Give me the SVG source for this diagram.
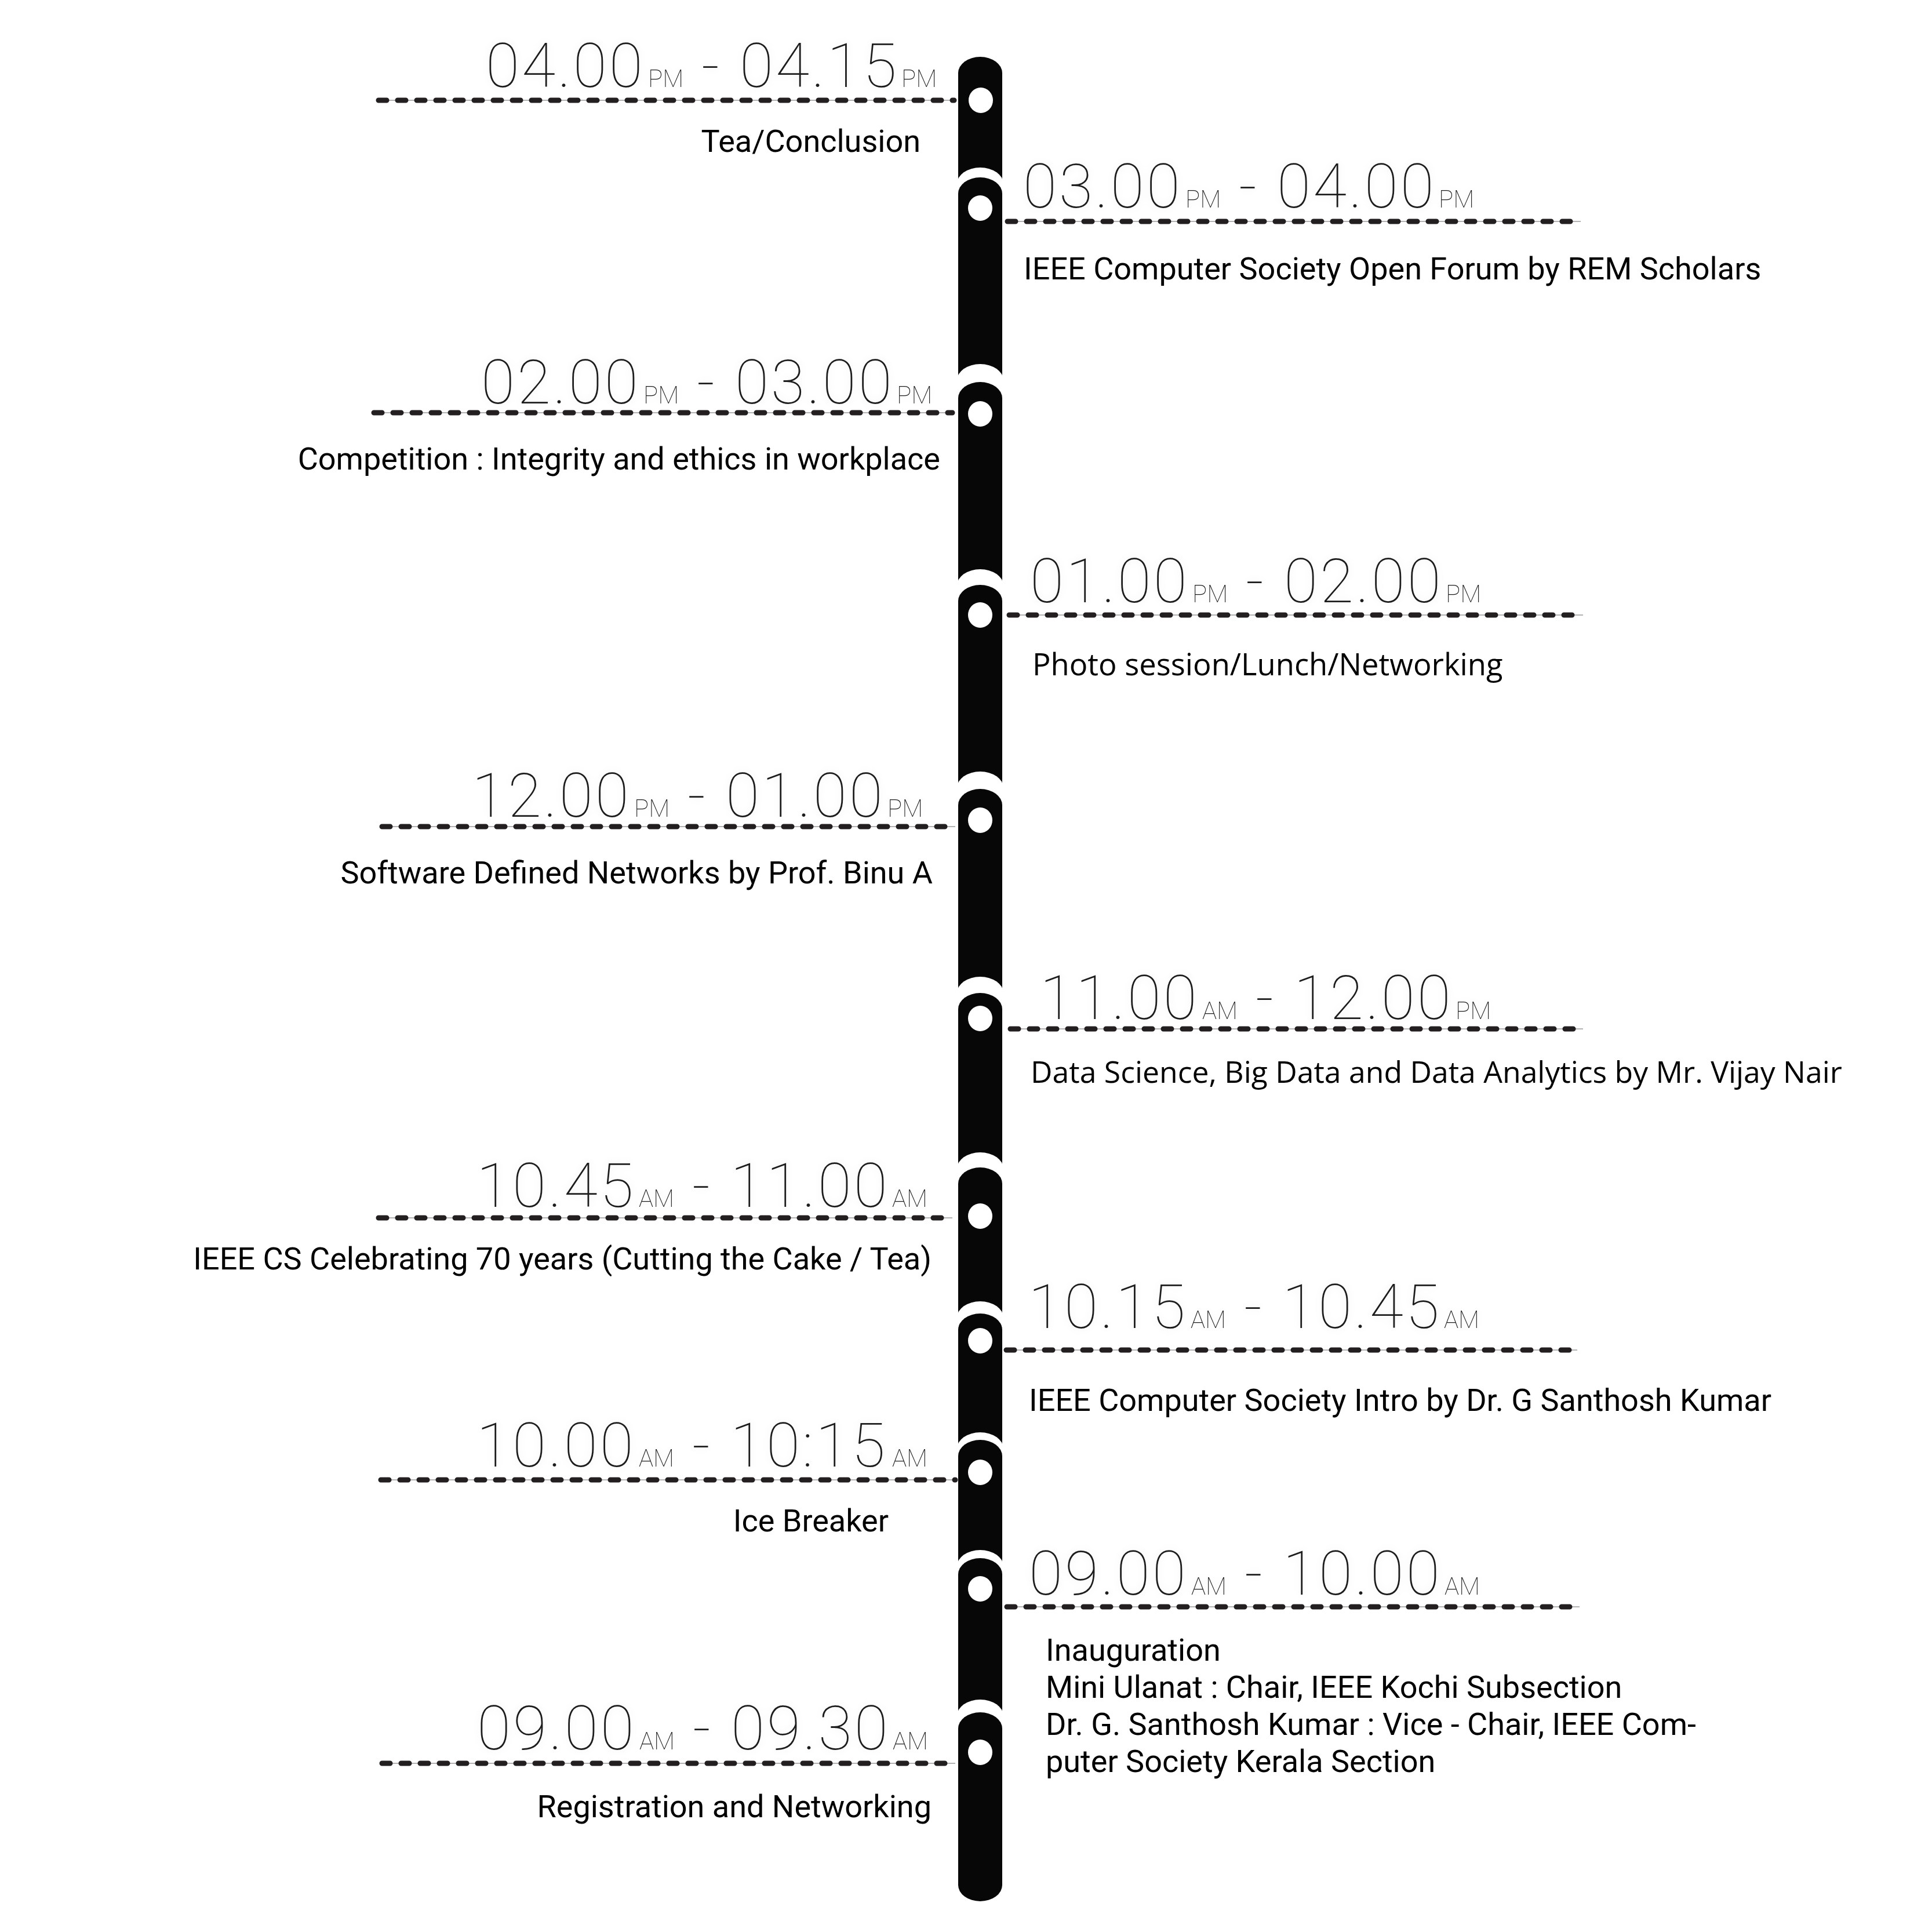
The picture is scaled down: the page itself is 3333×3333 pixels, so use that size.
<svg xmlns="http://www.w3.org/2000/svg" width="3333" height="3333" viewBox="0 0 3333 3333">
<defs>
<style>
.t{font-family:Roboto,"Liberation Sans",sans-serif;font-weight:100;font-size:106px;letter-spacing:4px;fill:#1a1a1a;filter:url(#glow)}
.s{font-size:42px;letter-spacing:0}
.lbl{font-family:Roboto,"Liberation Sans",sans-serif;font-size:54px;fill:#000}
.os{font-family:"Open Sans","Liberation Sans",sans-serif;fill:#000}
.end{text-anchor:end}
.dash{stroke:#231f20;stroke-width:9;stroke-linecap:round;stroke-dasharray:14 19;fill:none}
.thin{stroke:#9a9a9a;stroke-width:1.5;fill:none}
.bar{fill:#070707}
.gap{fill:#fff}
.dot{fill:#fff}
</style>
<filter id="glow" x="-10%" y="-30%" width="120%" height="160%">
<feGaussianBlur in="SourceAlpha" stdDeviation="7" result="b"/>
<feFlood flood-color="#000" flood-opacity="0.07"/>
<feComposite in2="b" operator="in" result="sh"/>
<feMerge><feMergeNode in="sh"/><feMergeNode in="SourceGraphic"/></feMerge>
</filter>
</defs>
<rect width="3333" height="3333" fill="#fff"/>

<g id="timeline-bar">
<path class="bar" d="M1653,3252 L1653,126 A38,28 0 0 1 1729,126 L1729,3252 A38,28 0 0 1 1653,3252 Z"/>
</g>

<g id="connectors">
<g class="thin">
<line x1="653" y1="173" x2="1646" y2="173"/>
<line x1="1734" y1="382" x2="2727" y2="382"/>
<line x1="645" y1="712" x2="1643" y2="712"/>
<line x1="1737" y1="1061" x2="2731" y2="1061"/>
<line x1="659" y1="1426" x2="1648" y2="1426"/>
<line x1="1739" y1="1775" x2="2731" y2="1775"/>
<line x1="653" y1="2101" x2="1643" y2="2101"/>
<line x1="1732" y1="2329" x2="2721" y2="2329"/>
<line x1="657" y1="2553" x2="1648" y2="2553"/>
<line x1="1733" y1="2772" x2="2725" y2="2772"/>
<line x1="659" y1="3042" x2="1648" y2="3042"/>
</g>
<g class="dash">
<line x1="653" y1="173" x2="1646" y2="173"/>
<line x1="1738" y1="382" x2="2727" y2="382"/>
<line x1="645" y1="712" x2="1643" y2="712"/>
<line x1="1741" y1="1061" x2="2731" y2="1061"/>
<line x1="659" y1="1426" x2="1648" y2="1426"/>
<line x1="1743" y1="1775" x2="2731" y2="1775"/>
<line x1="653" y1="2101" x2="1643" y2="2101"/>
<line x1="1736" y1="2329" x2="2721" y2="2329"/>
<line x1="657" y1="2553" x2="1648" y2="2553"/>
<line x1="1737" y1="2772" x2="2725" y2="2772"/>
<line x1="659" y1="3042" x2="1648" y2="3042"/>
</g>
</g>

<g id="node-1">
<ellipse class="dot" cx="1692" cy="173" rx="21" ry="22"/>
<text class="t" y="150"><tspan x="838">04.00</tspan><tspan class="s" x="1118">PM</tspan><tspan x="1210">-</tspan><tspan x="1276">04.15</tspan><tspan class="s" x="1555">PM</tspan></text>
<text class="lbl end" x="1588" y="262">Tea/Conclusion</text>
</g>

<g id="node-2">
<path class="gap" d="M1651,334 L1651,317 A40,28 0 0 1 1731,317 L1731,334 Z"/>
<path class="bar" d="M1653,340 L1653,334 A38,28 0 0 1 1729,334 L1729,340 Z"/>
<ellipse class="dot" cx="1691" cy="359" rx="21" ry="22"/>
<text class="t" y="358"><tspan x="1765">03.00</tspan><tspan class="s" x="2045">PM</tspan><tspan x="2137">-</tspan><tspan x="2203">04.00</tspan><tspan class="s" x="2482">PM</tspan></text>
<text class="lbl" x="1766" y="482">IEEE Computer Society Open Forum by REM Scholars</text>
</g>

<g id="node-3">
<path class="gap" d="M1651,687 L1651,656 A40,28 0 0 1 1731,656 L1731,687 Z"/>
<path class="bar" d="M1653,693 L1653,687 A38,28 0 0 1 1729,687 L1729,693 Z"/>
<ellipse class="dot" cx="1691" cy="714" rx="21" ry="22"/>
<text class="t" y="696"><tspan x="830">02.00</tspan><tspan class="s" x="1110">PM</tspan><tspan x="1202">-</tspan><tspan x="1268">03.00</tspan><tspan class="s" x="1547">PM</tspan></text>
<text class="lbl end" x="1622" y="810">Competition : Integrity and ethics in workplace</text>
</g>

<g id="node-4">
<path class="gap" d="M1651,1037 L1651,1010 A40,28 0 0 1 1731,1010 L1731,1037 Z"/>
<path class="bar" d="M1653,1043 L1653,1037 A38,28 0 0 1 1729,1037 L1729,1043 Z"/>
<ellipse class="dot" cx="1691" cy="1061" rx="21" ry="22"/>
<text class="t" y="1039"><tspan x="1777">01.00</tspan><tspan class="s" x="2057">PM</tspan><tspan x="2149">-</tspan><tspan x="2215">02.00</tspan><tspan class="s" x="2494">PM</tspan></text>
<text class="os" x="1781" y="1165" font-size="52.5">Photo session/Lunch/Networking</text>
</g>

<g id="node-5">
<path class="gap" d="M1651,1389 L1651,1359 A40,28 0 0 1 1731,1359 L1731,1389 Z"/>
<path class="bar" d="M1653,1395 L1653,1389 A38,28 0 0 1 1729,1389 L1729,1395 Z"/>
<ellipse class="dot" cx="1691" cy="1415" rx="21" ry="22"/>
<text class="t" y="1409"><tspan x="814">12.00</tspan><tspan class="s" x="1094">PM</tspan><tspan x="1186">-</tspan><tspan x="1252">01.00</tspan><tspan class="s" x="1531">PM</tspan></text>
<text class="lbl end" x="1609" y="1524">Software Defined Networks by Prof. Binu A</text>
</g>

<g id="node-6">
<path class="gap" d="M1651,1741 L1651,1713 A40,28 0 0 1 1731,1713 L1731,1741 Z"/>
<path class="bar" d="M1653,1747 L1653,1741 A38,28 0 0 1 1729,1741 L1729,1747 Z"/>
<ellipse class="dot" cx="1691" cy="1757" rx="21" ry="22"/>
<text class="t" y="1758"><tspan x="1794">11.00</tspan><tspan class="s" x="2074">AM</tspan><tspan x="2166">-</tspan><tspan x="2232">12.00</tspan><tspan class="s" x="2511">PM</tspan></text>
<text class="os" x="1778" y="1868" font-size="51.7">Data Science, Big Data and Data Analytics by Mr. Vijay Nair</text>
</g>

<g id="node-7">
<path class="gap" d="M1651,2042 L1651,2016 A40,28 0 0 1 1731,2016 L1731,2042 Z"/>
<path class="bar" d="M1653,2048 L1653,2042 A38,28 0 0 1 1729,2042 L1729,2048 Z"/>
<ellipse class="dot" cx="1691" cy="2098" rx="21" ry="22"/>
<text class="t" y="2082"><tspan x="822">10.45</tspan><tspan class="s" x="1102">AM</tspan><tspan x="1194">-</tspan><tspan x="1260">11.00</tspan><tspan class="s" x="1539">AM</tspan></text>
<text class="lbl end" x="1607" y="2190">IEEE CS Celebrating 70 years (Cutting the Cake / Tea)</text>
</g>

<g id="node-8">
<path class="gap" d="M1651,2294 L1651,2273 A40,28 0 0 1 1731,2273 L1731,2294 Z"/>
<path class="bar" d="M1653,2300 L1653,2294 A38,28 0 0 1 1729,2294 L1729,2300 Z"/>
<ellipse class="dot" cx="1691" cy="2313" rx="21" ry="22"/>
<text class="t" y="2291"><tspan x="1774">10.15</tspan><tspan class="s" x="2054">AM</tspan><tspan x="2146">-</tspan><tspan x="2212">10.45</tspan><tspan class="s" x="2491">AM</tspan></text>
<text class="lbl" x="1775" y="2434">IEEE Computer Society Intro by Dr. G Santhosh Kumar</text>
</g>

<g id="node-9">
<path class="gap" d="M1651,2512 L1651,2499 A40,28 0 0 1 1731,2499 L1731,2512 Z"/>
<path class="bar" d="M1653,2518 L1653,2512 A38,28 0 0 1 1729,2512 L1729,2518 Z"/>
<ellipse class="dot" cx="1691" cy="2540" rx="21" ry="22"/>
<text class="t" y="2530"><tspan x="822">10.00</tspan><tspan class="s" x="1102">AM</tspan><tspan x="1194">-</tspan><tspan x="1260">10:15</tspan><tspan class="s" x="1539">AM</tspan></text>
<text class="lbl end" x="1533" y="2642">Ice Breaker</text>
</g>

<g id="node-10">
<path class="gap" d="M1651,2716 L1651,2702 A40,28 0 0 1 1731,2702 L1731,2716 Z"/>
<path class="bar" d="M1653,2722 L1653,2716 A38,28 0 0 1 1729,2716 L1729,2722 Z"/>
<ellipse class="dot" cx="1691" cy="2741" rx="21" ry="22"/>
<text class="t" y="2751"><tspan x="1775">09.00</tspan><tspan class="s" x="2055">AM</tspan><tspan x="2147">-</tspan><tspan x="2213">10.00</tspan><tspan class="s" x="2492">AM</tspan></text>
<text class="lbl" x="1804"><tspan x="1804" y="2865">Inauguration</tspan><tspan x="1804" y="2929">Mini Ulanat : Chair, IEEE Kochi Subsection</tspan><tspan x="1804" y="2993">Dr. G. Santhosh Kumar : Vice - Chair, IEEE Com-</tspan><tspan x="1804" y="3057">puter Society Kerala Section</tspan></text>
</g>

<g id="node-11">
<path class="gap" d="M1651,2982 L1651,2960 A40,28 0 0 1 1731,2960 L1731,2982 Z"/>
<path class="bar" d="M1653,2988 L1653,2982 A38,28 0 0 1 1729,2982 L1729,2988 Z"/>
<ellipse class="dot" cx="1691" cy="3023" rx="21" ry="22"/>
<text class="t" y="3018"><tspan x="823">09.00</tspan><tspan class="s" x="1103">AM</tspan><tspan x="1195">-</tspan><tspan x="1261">09.30</tspan><tspan class="s" x="1540">AM</tspan></text>
<text class="lbl end" x="1607" y="3135">Registration and Networking</text>
</g>
</svg>
